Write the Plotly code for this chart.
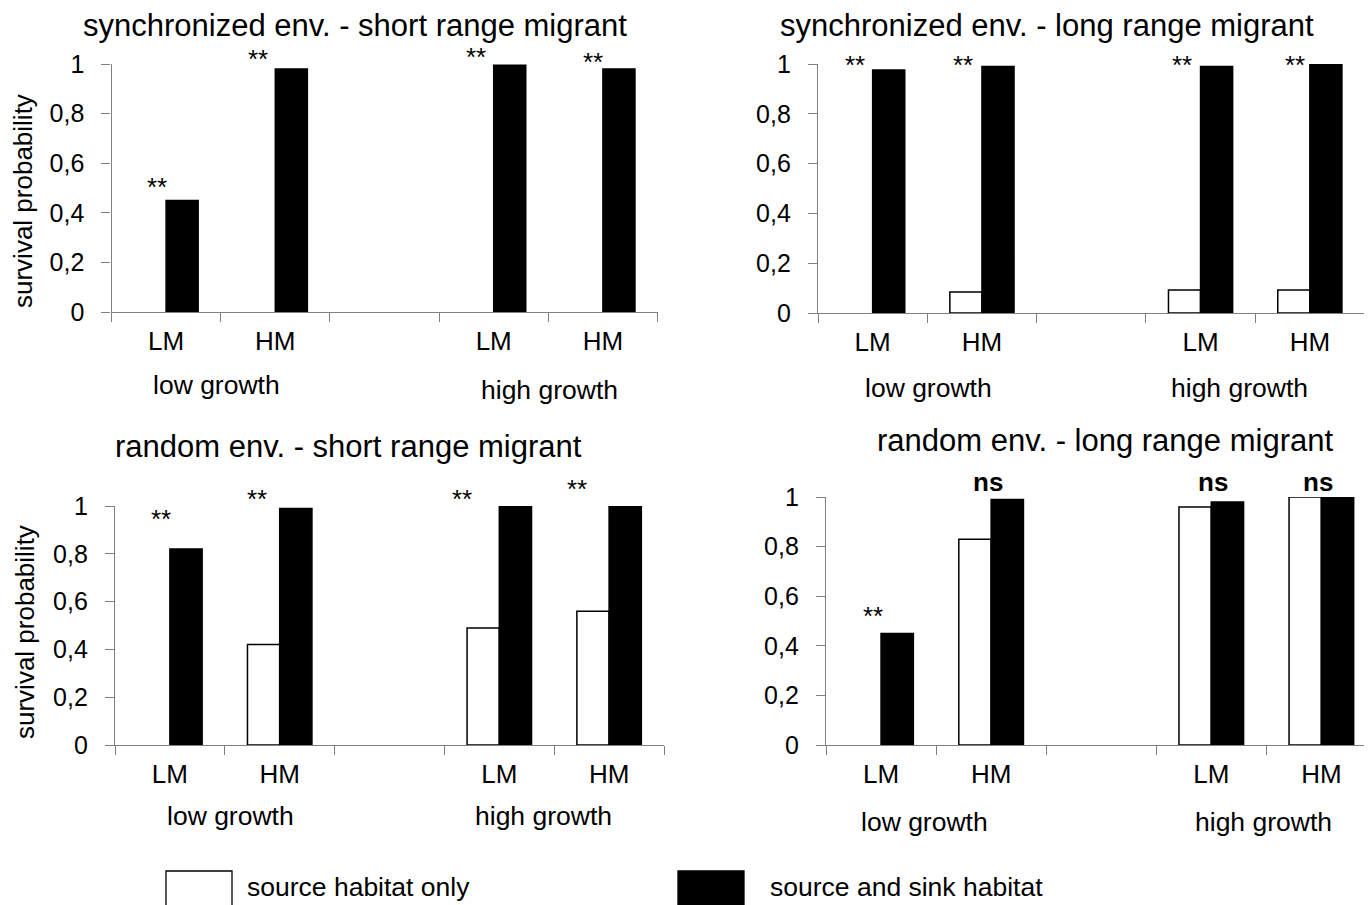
import plotly.graph_objects as go

# ---------------- data ----------------
categories = ["LM_low", "HM_low", "gap", "LM_high", "HM_high"]
tick_labels = ["LM", "HM", "", "LM", "HM"]
group_labels = ["low growth", "high growth"]
series_names = ["source habitat only", "source and sink habitat"]
y_tick_values = [0, 0.2, 0.4, 0.6, 0.8, 1]
y_tick_labels = ["0", "0,2", "0,4", "0,6", "0,8", "1"]
y_title = "survival probability"

panel_titles = [
    "synchronized env. - short range migrant",
    "synchronized env. - long range migrant",
    "random env. - short range migrant",
    "random env. - long range migrant",
]

sync_short_source = [0, 0, None, 0, 0]
sync_short_both = [0.45, 0.98, None, 0.995, 0.98]
sync_long_source = [0, 0.084, None, 0.092, 0.092]
sync_long_both = [0.976, 0.99, None, 0.99, 1.0]
rand_short_source = [0, 0.42, None, 0.49, 0.56]
rand_short_both = [0.82, 0.99, None, 1.0, 1.0]
rand_long_source = [0, 0.83, None, 0.96, 1.0]
rand_long_both = [0.45, 0.99, None, 0.98, 1.0]

sig_sync_short = ["**", "**", None, "**", "**"]
sig_sync_long = ["**", "**", None, "**", "**"]
sig_rand_short = ["**", "**", None, "**", "**"]
sig_rand_long = ["**", "ns", None, "ns", "ns"]

panels_source = [sync_short_source, sync_long_source, rand_short_source, rand_long_source]
panels_both = [sync_short_both, sync_long_both, rand_short_both, rand_long_both]
panels_sig = [sig_sync_short, sig_sync_long, sig_rand_short, sig_rand_long]

# ---------------- layout geometry (screen pixels) ----------------
PAGE_W, PAGE_H = 1372, 905
OFF = 8  # page body margin: the figure is drawn 8px in from the top-left corner
W, H = PAGE_W - OFF, PAGE_H - OFF
FONT = "Liberation Sans, Arial, sans-serif"
GREY = "#808080"

geom = [
    dict(x0=111.5, x1=657.5, ytop=64, yzero=312, rend=4.5,
         title=(355, 26), ytitle=(23, 201), groups=[(216, 385), (549, 390)],
         sig_dx=[-9, -17, 0, -18, -10], sig_y=[187, 59, 0, 57, 62]),
    dict(x0=818, x1=1364.5, ytop=64, yzero=313, rend=4.5,
         title=(1047, 26), ytitle=None, groups=[(929, 388), (1239, 388)],
         sig_dx=[-18, -19, 0, -19, -15], sig_y=[65, 65, 0, 65, 65]),
    dict(x0=115, x1=664, ytop=506, yzero=745, rend=4.5,
         title=(348, 446), ytitle=(25, 632), groups=[(230, 816), (543, 816)],
         sig_dx=[-9, -23, 0, -37, -32], sig_y=[519, 499, 0, 499, 489]),
    dict(x0=826, x1=1372, ytop=497, yzero=745, rend=4.46,
         title=(1105, 440), ytitle=None, groups=[(925, 822), (1263, 822)],
         sig_dx=[-8, -3, 0, 2, -3], sig_y=[616, 482, 0, 482, 482]),
]


def px_x(x):
    return (x - OFF) / W


def px_y(y):
    return 1 - (y - OFF) / H


fig = go.Figure()
annotations = []
shapes = []

for i in range(4):
    g = geom[i]
    n = "" if i == 0 else str(i + 1)
    xa, ya = "x" + n, "y" + n
    src = panels_source[i]
    both = panels_both[i]
    fig.add_trace(go.Bar(
        x=categories, y=src, name=series_names[0], xaxis=xa, yaxis=ya,
        marker=dict(color="white",
                    line=dict(color="black",
                              width=[0 if (v is None or v == 0) else 1.5 for v in src])),
        showlegend=False, cliponaxis=False,
    ))
    fig.add_trace(go.Bar(
        x=categories, y=both, name=series_names[1], xaxis=xa, yaxis=ya,
        marker=dict(color="black", line=dict(color="black", width=1.5)),
        showlegend=False, cliponaxis=False,
    ))

    fig.layout["xaxis" + n] = dict(
        domain=[max(0, px_x(g["x0"])), min(1, px_x(g["x1"]))], anchor=ya, automargin=False,
        type="category", categoryorder="array", categoryarray=categories,
        range=[-0.5, g["rend"]], tickmode="array", tickvals=categories,
        ticktext=tick_labels, tickson="boundaries", ticks="outside", ticklen=9,
        tickcolor=GREY, tickwidth=1.3, showline=True, linecolor=GREY, linewidth=1.3,
        showgrid=False, zeroline=False, ticklabelstandoff=6,
        tickfont=dict(family=FONT, size=26, color="black"), fixedrange=True,
    )
    fig.layout["yaxis" + n] = dict(
        domain=[px_y(g["yzero"]), px_y(g["ytop"])], anchor=xa, automargin=False,
        range=[0, 1], tickmode="array", tickvals=y_tick_values, ticktext=y_tick_labels,
        ticks="outside", ticklen=9, tickcolor=GREY, tickwidth=1.3,
        showline=True, linecolor=GREY, linewidth=1.3, showgrid=False, zeroline=False,
        ticklabelstandoff=12, tickfont=dict(family=FONT, size=25, color="black"),
        fixedrange=True,
    )

    tx, ty = g["title"]
    annotations.append(dict(text=panel_titles[i], x=px_x(tx), y=px_y(ty), xref="paper",
                            yref="paper", xanchor="center", yanchor="middle",
                            showarrow=False, font=dict(family=FONT, size=31, color="black")))
    if g["ytitle"]:
        yx, yy = g["ytitle"]
        annotations.append(dict(text=y_title, x=px_x(yx), y=px_y(yy), xref="paper",
                                yref="paper", xanchor="center", yanchor="middle",
                                textangle=-90, showarrow=False,
                                font=dict(family=FONT, size=26, color="black")))
    for lbl, (gx, gy) in zip(group_labels, g["groups"]):
        annotations.append(dict(text=lbl, x=px_x(gx), y=px_y(gy), xref="paper",
                                yref="paper", xanchor="center", yanchor="middle",
                                showarrow=False,
                                font=dict(family=FONT, size=26.5, color="black")))
    for cat, s, dx, sy in zip(categories, panels_sig[i], g["sig_dx"], g["sig_y"]):
        if not s:
            continue
        txt = "<b>ns</b>" if s == "ns" else s
        annotations.append(dict(text=txt, x=cat, xref=xa, xshift=dx, y=px_y(sy),
                                yref="paper", xanchor="center", yanchor="middle",
                                showarrow=False,
                                font=dict(family=FONT, size=26, color="black")))

legend_items = [
    dict(box=(166, 232), fill="white", text_x=245),
    dict(box=(678, 744), fill="black", text_x=768),
]
for name, li in zip(series_names, legend_items):
    shapes.append(dict(type="rect", xref="paper", yref="paper",
                       x0=px_x(li["box"][0]), x1=px_x(li["box"][1]),
                       y0=px_y(912), y1=px_y(871), fillcolor=li["fill"],
                       line=dict(color="black", width=1.3), layer="above"))
    annotations.append(dict(text=name, x=px_x(li["text_x"]), y=px_y(887), xref="paper",
                            yref="paper", xanchor="left", yanchor="middle",
                            showarrow=False, font=dict(family=FONT, size=26.5, color="black")))

fig.update_layout(
    width=W, height=H, margin=dict(l=0, r=0, t=0, b=0, autoexpand=False),
    paper_bgcolor="white", plot_bgcolor="white",
    barmode="group", bargap=0.413, bargroupgap=0,
    annotations=annotations, shapes=shapes, showlegend=False,
    font=dict(family=FONT, color="black"),
)

fig.write_html("out.html")
